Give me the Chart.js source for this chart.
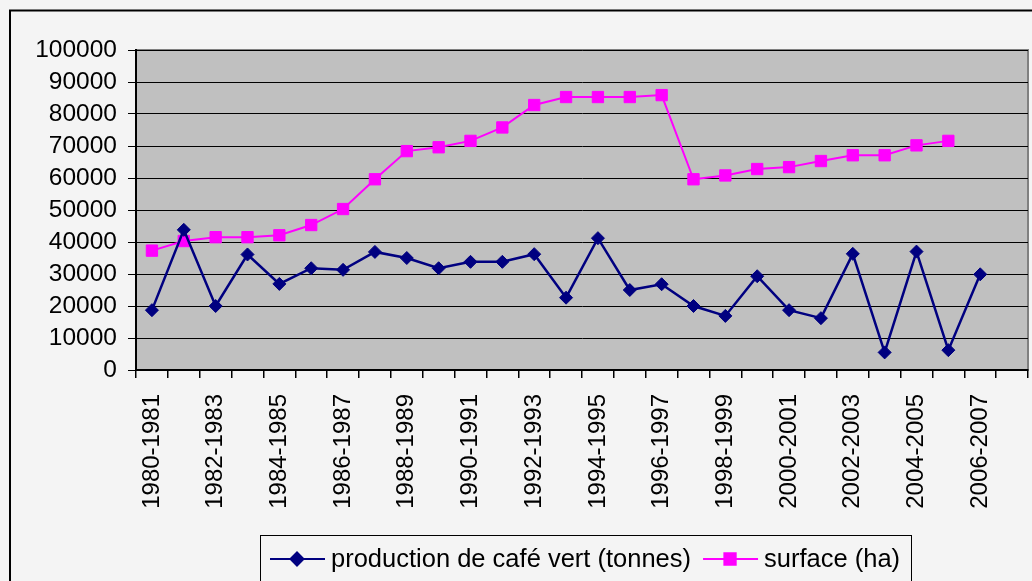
<!DOCTYPE html>
<html lang="fr">
<head>
    <meta charset="UTF-8">
    <title>Café vert</title>
    <script src="https://cdn.jsdelivr.net/npm/chart.js"></script>
    <style>
        html, body { margin: 0; padding: 0; background: #f4f4f4; overflow: hidden; }
        #wrap { width: 1032px; height: 581px; position: relative; overflow: hidden; }
        #myChart { display: block; }
    </style>
</head>
<body>
    <!-- canvas un peu plus large que la fenêtre : Chart.js garde ~9px à droite pour le dernier libellé -->
    <div id="wrap"><canvas id="myChart" width="1037" height="581"></canvas></div>

    <script>
        // campagnes
        const campagnes = [
            '1980-1981', '1981-1982', '1982-1983', '1983-1984', '1984-1985', '1985-1986', '1986-1987',
            '1987-1988', '1988-1989', '1989-1990', '1990-1991', '1991-1992', '1992-1993', '1993-1994',
            '1994-1995', '1995-1996', '1996-1997', '1997-1998', '1998-1999', '1999-2000', '2000-2001',
            '2001-2002', '2002-2003', '2003-2004', '2004-2005', '2005-2006', '2006-2007', '2007-2008'
        ];
        // production de café vert (tonnes)
        const production = [
            18700, 43800, 20000, 36100, 26900, 31800, 31300, 36900, 35000, 31800,
            33800, 33800, 36200, 22600, 41200, 25000, 26800, 20000, 16900, 29300,
            18700, 16200, 36300, 5500, 37000, 6200, 29900
        ];
        // surface (ha)
        const surface = [
            37300, 40300, 41500, 41500, 42100, 45300, 50300, 59600, 68400, 69600,
            71600, 75800, 82800, 85300, 85300, 85300, 85900, 59600, 60800, 62800,
            63400, 65300, 67100, 67100, 70200, 71600
        ];
        const yTicks = { min: 0, max: 100000, step: 10000 };

        const FONT = 'Liberation Sans, Arial, sans-serif';

        // fond gris de la zone de tracé + cadre
        const plotBg = {
            id: 'plotBg',
            beforeDraw(chart) {
                const { ctx, chartArea: a } = chart;
                ctx.save();
                ctx.strokeStyle = '#000';
                ctx.lineWidth = 2;
                ctx.strokeRect(10, 10.5, 1100, 700);
                ctx.fillStyle = '#c0c0c0';
                ctx.fillRect(a.left, a.top, a.right - a.left, a.bottom - a.top);
                ctx.strokeStyle = '#808080';
                ctx.lineWidth = 2;
                ctx.strokeRect(a.left, a.top, a.right - a.left, a.bottom - a.top);
                ctx.restore();
            }
        };

        // légende façon Excel
        const excelLegend = {
            id: 'excelLegend',
            afterDraw(chart) {
                const ctx = chart.ctx;
                ctx.save();
                ctx.strokeStyle = '#000';
                ctx.lineWidth = 1;
                ctx.strokeRect(260.5, 535.5, 651, 80);
                ctx.font = '25.5px ' + FONT;
                ctx.textBaseline = 'middle';
                const y = 559;
                let x = 270;
                chart.data.datasets.forEach(ds => {
                    ctx.strokeStyle = ds.borderColor;
                    ctx.lineWidth = 2;
                    ctx.beginPath();
                    ctx.moveTo(x, y);
                    ctx.lineTo(x + 55, y);
                    ctx.stroke();
                    Chart.helpers.drawPoint(ctx, {
                        pointStyle: ds.pointStyle, radius: ds.pointRadius, rotation: 0, borderWidth: 1
                    }, x + 27, y);
                    ctx.fillStyle = ds.backgroundColor;
                    ctx.fill();
                    ctx.fillStyle = '#000';
                    ctx.fillText(ds.label, x + 61, y + 1);
                    x += 61 + ctx.measureText(ds.label).width + 12;
                });
                ctx.restore();
            }
        };

        const ctx = document.getElementById('myChart').getContext('2d');
        let myChart = new Chart(ctx, {
            type: 'line',
            data: {
                labels: campagnes,
                datasets: [{
                    label: 'production de café vert (tonnes)',
                    data: production,
                    borderColor: '#000080',
                    backgroundColor: '#000080',
                    borderWidth: 2.5,
                    pointStyle: 'rectRot',
                    pointRadius: 6.5,
                    pointBorderWidth: 1,
                    tension: 0
                }, {
                    label: 'surface (ha)',
                    data: surface,
                    borderColor: '#ff00ff',
                    backgroundColor: '#ff00ff',
                    borderWidth: 2,
                    pointStyle: 'rect',
                    pointRadius: 8,
                    pointBorderWidth: 1,
                    tension: 0
                }]
            },
            options: {
                responsive: false,
                animation: false,
                layout: { padding: { left: 0, top: 50, right: 0, bottom: 0 } },
                plugins: {
                    legend: { display: false },
                    tooltip: { enabled: false }
                },
                scales: {
                    x: {
                        offset: true,
                        grid: {
                            offset: true,
                            drawOnChartArea: false,
                            drawTicks: true,
                            tickLength: 8,
                            color: '#000',
                            lineWidth: 1.5
                        },
                        border: { display: true, color: '#000', width: 2 },
                        ticks: {
                            autoSkip: false,
                            maxRotation: 90,
                            minRotation: 90,
                            padding: 16,
                            color: '#000',
                            font: { family: FONT, size: 24 },
                            callback: function (v, i) { return i % 2 === 0 ? this.getLabelForValue(v) : ''; }
                        },
                        afterFit: s => { s.height = 211; s.paddingLeft = 0; s.paddingRight = 0; }
                    },
                    y: {
                        min: yTicks.min,
                        max: yTicks.max,
                        grid: { color: '#000', lineWidth: 1, tickLength: 8 },
                        border: { display: true, color: '#000', width: 2 },
                        ticks: {
                            stepSize: yTicks.step,
                            autoSkip: false,
                            padding: 11,
                            color: '#000',
                            font: { family: FONT, size: 24.5 },
                            callback: v => String(v)
                        },
                        afterFit: s => { s.width = 136; s.paddingTop = 0; s.paddingBottom = 0; }
                    }
                }
            },
            plugins: [plotBg, excelLegend]
        });
    </script>
</body>
</html>
